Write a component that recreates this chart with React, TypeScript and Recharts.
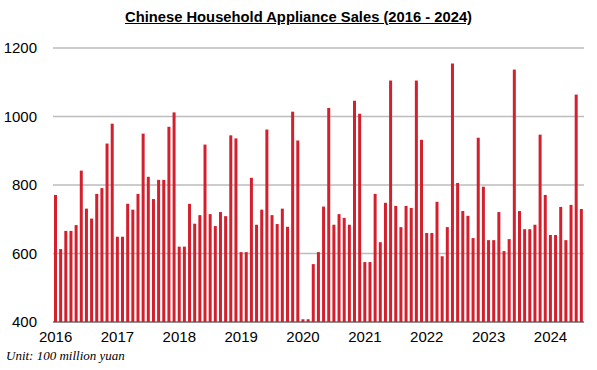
import { BarChart, Bar, XAxis, YAxis, CartesianGrid } from 'recharts';

const YEARS = [2016, 2017, 2018, 2019, 2020, 2021, 2022, 2023, 2024];
const MONTHS = ['01', '02', '03', '04', '05', '06', '07', '08', '09', '10', '11', '12'];

// monthly sales, Jan 2016 - Jul 2024
const SALES = [
  771, 613, 666, 666, 683, 842, 731, 702, 774, 791, 921, 979,
  649, 649, 745, 728, 774, 950, 824, 759, 815, 815, 970, 1012,
  620, 620, 745, 687, 712, 918, 715, 680, 721, 709, 945, 936,
  604, 604, 821, 684, 728, 962, 712, 686, 731, 678, 1014, 930,
  408, 408, 569, 604, 737, 1025, 684, 715, 704, 684, 1046, 1008,
  575, 575, 774, 633, 748, 1105, 739, 677, 739, 733, 1105, 932,
  660, 660, 751, 592, 677, 1155, 806, 724, 710, 645, 938, 795,
  639, 639, 721, 607, 642, 1137, 724, 671, 671, 684, 947, 771,
  654, 654, 736, 639, 742, 1064, 730,
];

const Y_TICKS = [400, 600, 800, 1000, 1200];

const CATEGORIES = YEARS.flatMap((y) => MONTHS.map((m) => `${y}-${m}`)).slice(0, SALES.length);

const data = CATEGORIES.map((month, i) => ({ month, sales: SALES[i] }));

const FONT = '"Liberation Sans", Arial, sans-serif';

export default function App() {
  return (
    <div style={{ position: 'absolute', left: 0, top: 0, width: 597, height: 370, background: '#fff' }}>
      <div
        style={{
          position: 'absolute',
          top: 9,
          left: 0,
          width: 597,
          textAlign: 'center',
          fontFamily: FONT,
          fontWeight: 'bold',
          fontSize: 14.75,
          textDecoration: 'underline',
          color: '#000',
        }}
      >
        Chinese Household Appliance Sales (2016 - 2024)
      </div>
      <BarChart
        width={597}
        height={370}
        data={data}
        margin={{ top: 48, right: 13, bottom: 18, left: 0 }}
        barSize={3}
      >
        <CartesianGrid vertical={false} stroke="#bdbdbd" strokeWidth={1.5} />
        <XAxis
          dataKey="month"
          interval={11}
          tickFormatter={(v: string) => v.slice(0, 4)}
          tickLine={false}
          tickSize={0}
          tickMargin={9}
          height={30}
          axisLine={{ stroke: '#555' }}
          tick={{ fill: '#000', fontSize: 15, fontFamily: FONT }}
        />
        <YAxis
          domain={[400, 1200]}
          ticks={Y_TICKS}
          width={53}
          axisLine={false}
          tickLine={false}
          tickSize={0}
          tickMargin={16}
          tick={{ fill: '#000', fontSize: 15, fontFamily: FONT }}
        />
        <Bar dataKey="sales" fill="#d41f2d" isAnimationActive={false} />
      </BarChart>
      <div
        style={{
          position: 'absolute',
          top: 348,
          left: 6,
          fontFamily: '"Liberation Serif", "DejaVu Serif", serif',
          fontStyle: 'italic',
          fontSize: 13,
          color: '#000',
        }}
      >
        Unit: 100 million yuan
      </div>
    </div>
  );
}
